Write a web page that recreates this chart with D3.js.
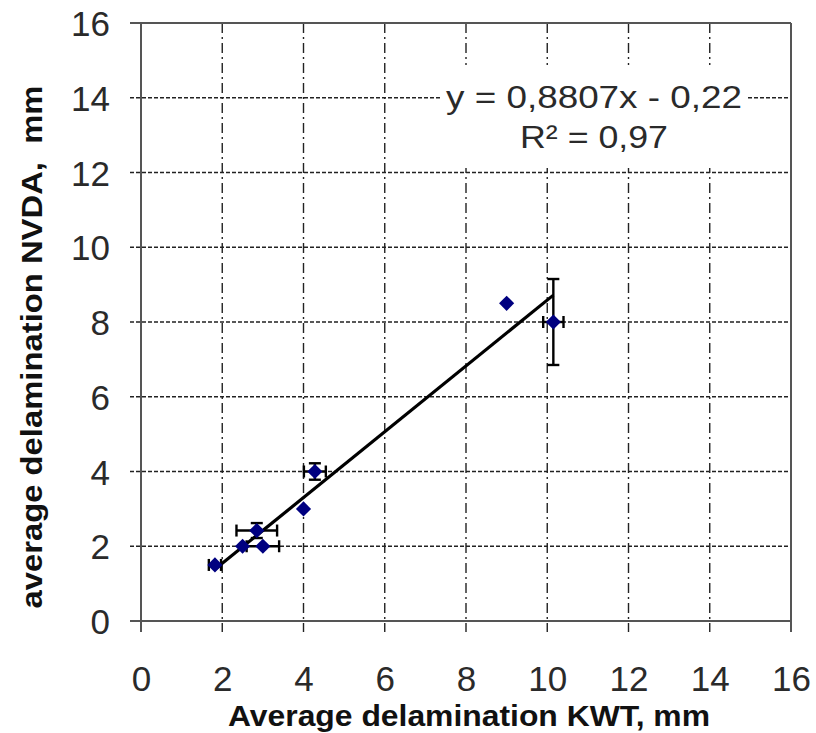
<!DOCTYPE html>
<html>
<head>
<meta charset="utf-8">
<script src="https://d3js.org/d3.v7.min.js"></script>
<style>
body { margin: 0; background: #fff; }
svg { display: block; }
</style>
</head>
<body>
<svg width="816" height="733"></svg>
<script>
// Delamination measured with KWT vs NVDA
var kwt     = [1.82, 2.5, 2.85, 3.0, 4.0, 4.28, 9.0, 10.15];
var nvda    = [1.5, 2.0, 2.42, 2.0, 3.0, 4.0, 8.5, 8.0];
var kwtErr  = [0.15, 0, 0.5, 0.4, 0, 0.27, 0, 0.25];
var nvdaErr = [0, 0, 0.2, 0, 0, 0.22, 0, 1.15];

var xTicks = [0, 2, 4, 6, 8, 10, 12, 14, 16];
var yTicks = [0, 2, 4, 6, 8, 10, 12, 14, 16];

// linear trend fitted in the spreadsheet
var slope = 0.8807, intercept = -0.22, rSquared = 0.97;

var svg = d3.select("svg");

var x = d3.scaleLinear().domain([0, 16]).range([141, 791]);
var y = d3.scaleLinear().domain([0, 16]).range([621, 23]);

var gridColor = "#222";
var axisColor = "#555";

// horizontal grid (short dashes), extends past the left axis as a tick
svg.append("g").selectAll("line")
  .data(yTicks.filter(function(d){ return d > 0 && d < 16; }))
  .join("line")
  .attr("x1", x(0) - 11).attr("x2", x(16))
  .attr("y1", function(d){ return y(d); }).attr("y2", function(d){ return y(d); })
  .attr("stroke", gridColor).attr("stroke-width", 1.4)
  .attr("stroke-dasharray", "4,2");

// vertical grid (dash-dot), extends below the bottom axis
svg.append("g").selectAll("line")
  .data(xTicks.filter(function(d){ return d > 0 && d < 16; }))
  .join("line")
  .attr("x1", function(d){ return x(d); }).attr("x2", function(d){ return x(d); })
  .attr("y1", y(16)).attr("y2", y(0) + 11)
  .attr("stroke", gridColor).attr("stroke-width", 1.4)
  .attr("stroke-dasharray", "10,4,2,4");

// plot frame
var frame = svg.append("g").attr("stroke", axisColor).attr("stroke-width", 2);
frame.append("line").attr("x1", x(0) - 11).attr("x2", x(16)).attr("y1", y(0)).attr("y2", y(0));
frame.append("line").attr("x1", x(0) - 11).attr("x2", x(16)).attr("y1", y(16)).attr("y2", y(16));
frame.append("line").attr("x1", x(0)).attr("x2", x(0)).attr("y1", y(16)).attr("y2", y(0) + 11);
frame.append("line").attr("x1", x(16)).attr("x2", x(16)).attr("y1", y(16)).attr("y2", y(0) + 11);

// tick labels through the axis generators
var xAxis = d3.axisBottom(x).tickValues(xTicks).tickSize(0).tickPadding(0).tickFormat(d3.format("d"));
var yAxis = d3.axisLeft(y).tickValues(yTicks).tickSize(0).tickPadding(0).tickFormat(d3.format("d"));

var gx = svg.append("g").attr("transform", "translate(0," + y(0) + ")").call(xAxis);
var gy = svg.append("g").attr("transform", "translate(" + (x(0) - 31) + ",0)").call(yAxis);
[gx, gy].forEach(function(g){
  g.select(".domain").remove();
  g.selectAll("text")
    .attr("font-family", "'Liberation Sans', Arial, sans-serif")
    .attr("font-size", "35px")
    .attr("fill", "#2a2a2a");
});
gx.selectAll("text").attr("y", 70).attr("dy", 0);
gy.selectAll("text").attr("dy", "0.36em");

// equation box
var eqBox = svg.append("g");
eqBox.append("rect")
  .attr("x", 440).attr("y", 65).attr("width", 307).attr("height", 103)
  .attr("fill", "#fff");
var fmt = function(v){ return String(v).replace(".", ","); };
eqBox.append("text")
  .attr("x", 594).attr("y", 108)
  .attr("text-anchor", "middle")
  .attr("font-family", "'Liberation Sans', Arial, sans-serif")
  .attr("font-size", "32px").attr("fill", "#2a2a2a")
  .attr("textLength", 296).attr("lengthAdjust", "spacingAndGlyphs")
  .text("y = " + fmt(slope) + "x - " + fmt(Math.abs(intercept)));
eqBox.append("text")
  .attr("x", 594).attr("y", 148)
  .attr("text-anchor", "middle")
  .attr("font-family", "'Liberation Sans', Arial, sans-serif")
  .attr("font-size", "32px").attr("fill", "#2a2a2a")
  .attr("textLength", 148).attr("lengthAdjust", "spacingAndGlyphs")
  .text("R\u00B2 = " + fmt(rSquared));

// trend line over the range of the data
var xMin = d3.min(kwt), xMax = d3.max(kwt);
svg.append("line")
  .attr("x1", x(xMin)).attr("y1", y(slope * xMin + intercept))
  .attr("x2", x(xMax)).attr("y2", y(slope * xMax + intercept))
  .attr("stroke", "#000").attr("stroke-width", 3.2);

var points = kwt.map(function(v, i){
  return { x: v, y: nvda[i], ex: kwtErr[i], ey: nvdaErr[i] };
});

// error bars
var cap = 6;
var eb = svg.append("g").attr("stroke", "#000").attr("stroke-width", 2.4);
points.forEach(function(p){
  if (p.ex > 0) {
    eb.append("line").attr("x1", x(p.x - p.ex)).attr("x2", x(p.x + p.ex)).attr("y1", y(p.y)).attr("y2", y(p.y));
    eb.append("line").attr("x1", x(p.x - p.ex)).attr("x2", x(p.x - p.ex)).attr("y1", y(p.y) - cap).attr("y2", y(p.y) + cap);
    eb.append("line").attr("x1", x(p.x + p.ex)).attr("x2", x(p.x + p.ex)).attr("y1", y(p.y) - cap).attr("y2", y(p.y) + cap);
  }
  if (p.ey > 0) {
    eb.append("line").attr("x1", x(p.x)).attr("x2", x(p.x)).attr("y1", y(p.y - p.ey)).attr("y2", y(p.y + p.ey));
    eb.append("line").attr("x1", x(p.x) - cap).attr("x2", x(p.x) + cap).attr("y1", y(p.y - p.ey)).attr("y2", y(p.y - p.ey));
    eb.append("line").attr("x1", x(p.x) - cap).attr("x2", x(p.x) + cap).attr("y1", y(p.y + p.ey)).attr("y2", y(p.y + p.ey));
  }
});

// diamond markers
svg.append("g").selectAll("path")
  .data(points)
  .join("path")
  .attr("d", d3.symbol(d3.symbolSquare, 115))
  .attr("transform", function(d){ return "translate(" + x(d.x) + "," + y(d.y) + ") rotate(45)"; })
  .attr("fill", "#000080");

// axis titles
svg.append("text")
  .attr("x", 469).attr("y", 726)
  .attr("text-anchor", "middle")
  .attr("font-family", "'Liberation Sans Narrow', 'Arial Narrow', 'Liberation Sans', sans-serif")
  .attr("font-weight", "bold").attr("font-size", "29px").attr("fill", "#111")
  .attr("textLength", 482).attr("lengthAdjust", "spacingAndGlyphs")
  .text("Average delamination KWT, mm");

svg.append("text")
  .attr("transform", "translate(42,347) rotate(-90)")
  .attr("text-anchor", "middle")
  .attr("font-family", "'Liberation Sans Narrow', 'Arial Narrow', 'Liberation Sans', sans-serif")
  .attr("font-weight", "bold").attr("font-size", "29px").attr("fill", "#111")
  .attr("textLength", 523).attr("lengthAdjust", "spacingAndGlyphs")
  .style("white-space", "pre")
  .text("average delamination NVDA,  mm");
</script>
</body>
</html>
